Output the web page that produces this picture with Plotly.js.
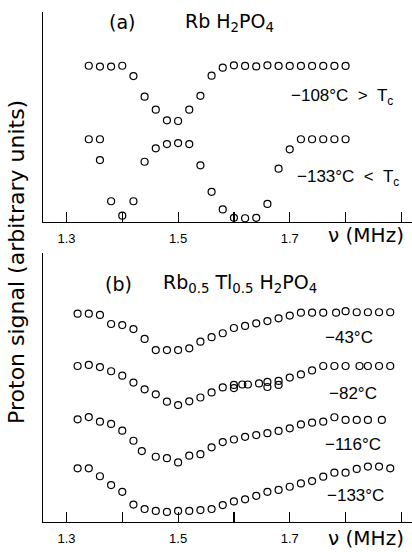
<!DOCTYPE html>
<html>
<head>
<meta charset="utf-8">
<script src="https://cdn.plot.ly/plotly-3.0.1.min.js"></script>
<style>html,body{margin:0;padding:0;background:#fff;}</style>
</head>
<body>
<div id="chart" style="width:412px;height:552px;"></div>
<script>
// ---- Panel (a) RbH2PO4 ----
const freqA108 = [1.34,1.36,1.38,1.40,1.42,1.44,1.46,1.48,1.50,1.52,1.54,1.56,1.58,1.60,1.62,1.64,1.66,1.68,1.70,1.72,1.74,1.76,1.78,1.80];
const sigA108  = [7.44,7.40,7.40,7.44,6.95,5.97,5.35,4.84,4.81,5.35,6.01,6.97,7.35,7.46,7.43,7.41,7.46,7.43,7.43,7.43,7.43,7.43,7.43,7.43];
const freqA133 = [1.34,1.36,1.36,1.38,1.40,1.42,1.44,1.46,1.48,1.50,1.52,1.54,1.56,1.58,1.60,1.62,1.64,1.66,1.68,1.70,1.72,1.74,1.76,1.78,1.80];
const sigA133  = [3.94,3.94,2.95,0.99,0.30,0.99,2.87,3.51,3.71,3.76,3.71,2.70,1.44,0.60,0.20,0.18,0.20,0.86,2.54,3.46,3.94,3.94,3.94,3.94,3.94];

// ---- Panel (b) Rb0.5Tl0.5H2PO4 ----
const freqB43 = [1.32,1.34,1.36,1.38,1.40,1.42,1.44,1.46,1.48,1.50,1.52,1.54,1.56,1.58,1.60,1.62,1.64,1.66,1.68,1.70,1.72,1.74,1.76,1.783,1.80,1.82,1.84,1.86,1.88];
const sigB43  = [9.68,9.68,9.62,9.19,9.14,8.95,8.48,7.95,7.95,7.95,8.03,8.35,8.56,8.75,9.00,9.10,9.22,9.33,9.46,9.59,9.73,9.73,9.73,9.73,9.80,9.75,9.75,9.75,9.75];
const freqB82 = [1.32,1.34,1.36,1.38,1.40,1.42,1.44,1.46,1.48,1.50,1.52,1.54,1.56,1.58,1.60,1.60,1.615,1.625,1.645,1.66,1.66,1.68,1.68,1.70,1.72,1.74,1.76,1.78,1.80,1.825,1.84,1.86,1.88];
const sigB82  = [7.19,7.24,7.14,6.94,6.73,6.40,6.08,5.84,5.49,5.33,5.51,5.69,5.93,6.17,6.29,6.14,6.31,6.31,6.36,6.43,6.19,6.48,6.29,6.64,6.79,6.98,7.19,7.19,7.19,7.19,7.19,7.19,7.19];
const freqB116 = [1.32,1.34,1.36,1.38,1.40,1.42,1.435,1.46,1.48,1.50,1.52,1.54,1.56,1.58,1.60,1.62,1.64,1.66,1.68,1.70,1.72,1.74,1.76,1.78,1.80,1.82,1.84,1.865];
const sigB116  = [4.65,4.76,4.54,4.43,4.11,3.63,3.14,2.87,2.80,2.60,2.92,2.99,3.32,3.57,3.69,3.82,3.90,3.99,4.10,4.22,4.41,4.49,4.54,4.75,4.62,4.62,4.62,4.62];
const freqB133 = [1.32,1.34,1.36,1.38,1.40,1.42,1.44,1.46,1.48,1.50,1.52,1.54,1.56,1.58,1.60,1.62,1.64,1.66,1.68,1.70,1.72,1.74,1.76,1.78,1.80,1.82,1.84,1.86,1.88];
const sigB133  = [2.32,2.32,1.94,1.52,1.20,0.59,0.38,0.29,0.24,0.29,0.29,0.33,0.38,0.57,0.74,0.84,1.01,1.20,1.29,1.44,1.60,1.71,1.92,2.11,2.11,2.29,2.40,2.40,2.32];

// ---- Axis ticks ----
const labelTickVals = [1.3,1.5,1.7];
const labelTickText = ['1.3','1.5','1.7'];
const minorTick0 = 1.3;
const minorStep = 0.1;

const SANS = 'DejaVu Sans, sans-serif';
const HELV = 'Liberation Sans, Arial, sans-serif';

function pts(x, y, xa, ya) {
  return {
    x: x, y: y, xaxis: xa, yaxis: ya, type: 'scatter', mode: 'markers',
    cliponaxis: false, hoverinfo: 'skip',
    marker: {symbol: 'circle-open', size: 7, color: '#000', line: {color: '#000', width: 1.2}}
  };
}

const data = [
  pts(freqA108, sigA108, 'x', 'y'),
  pts(freqA133, sigA133, 'x', 'y'),
  pts(freqB43, sigB43, 'x2', 'y2'),
  pts(freqB82, sigB82, 'x2', 'y2'),
  pts(freqB116, sigB116, 'x2', 'y2'),
  pts(freqB133, sigB133, 'x2', 'y2')
];

const xStyle = {
  range: [1.258, 1.919], showline: true, linecolor: '#000', linewidth: 1.2,
  ticks: 'inside', ticklen: 10, tickwidth: 1.2, tickcolor: '#000',
  tickmode: 'array', tickvals: labelTickVals, ticktext: labelTickText,
  minor: {tickmode: 'linear', tick0: minorTick0, dtick: minorStep, ticks: 'inside', ticklen: 10, tickwidth: 1.2, tickcolor: '#000', showgrid: false},
  ticklabelstandoff: 4,
  tickfont: {family: HELV, size: 13, color: '#000'},
  showgrid: false, zeroline: false, mirror: false, fixedrange: true
};
const yStyle = {
  showline: true, linecolor: '#000', linewidth: 1.2, ticks: '',
  showticklabels: false, showgrid: false, zeroline: false, fixedrange: true
};

function ann(text, x, y, xref, yref, size, family, opts) {
  return Object.assign({
    text: text, x: x, y: y, xref: xref, yref: yref, showarrow: false,
    xanchor: 'left', yanchor: 'middle',
    font: {family: family, size: size, color: '#000'}
  }, opts || {});
}

const annotations = [
  ann('(a)', 1.40, 9.52, 'x', 'y', 19, SANS, {xanchor: 'center'}),
  ann('Rb H<sub>2</sub>PO<sub>4</sub>', 1.509, 9.52, 'x', 'y', 19, SANS),
  ann('−108°C&nbsp; &gt;&nbsp; T<sub>c</sub>', 1.699, 5.97, 'x', 'y', 17, HELV),
  ann('−133°C&nbsp; &lt;&nbsp; T<sub>c</sub>', 1.71, 2.10, 'x', 'y', 17, HELV),
  ann('ν (MHz)', 1.837, 0.5627, 'x', 'paper', 20, SANS, {xanchor: 'center'}),

  ann('(b)', 1.393, 11.1, 'x2', 'y2', 19, SANS, {xanchor: 'center'}),
  ann('Rb<sub>0.5</sub> Tl<sub>0.5</sub> H<sub>2</sub>PO<sub>4</sub>', 1.469, 11.1, 'x2', 'y2', 19, SANS),
  ann('−43°C', 1.760, 8.57, 'x2', 'y2', 17, HELV),
  ann('−82°C', 1.767, 5.86, 'x2', 'y2', 17, HELV),
  ann('−116°C', 1.760, 3.43, 'x2', 'y2', 17, HELV),
  ann('−133°C', 1.763, 1.00, 'x2', 'y2', 17, HELV),
  ann('ν (MHz)', 1.837, -0.0585, 'x2', 'paper', 20, SANS, {xanchor: 'center', yanchor: 'bottom'}),

  ann('Proton signal (arbitrary units)', -0.0705, 0.51, 'paper', 'paper', 22, SANS,
      {xanchor: 'center', textangle: -90})
];

const layout = {
  width: 412, height: 552,
  margin: {l: 43, r: 0, t: 12, b: 30},
  paper_bgcolor: '#fff', plot_bgcolor: '#fff',
  showlegend: false,
  xaxis: Object.assign({anchor: 'y', domain: [0, 1]}, xStyle),
  yaxis: Object.assign({anchor: 'x', domain: [0.5882, 1], range: [0, 10]}, yStyle),
  xaxis2: Object.assign({anchor: 'y2', domain: [0, 1]}, xStyle),
  yaxis2: Object.assign({anchor: 'x2', domain: [0, 0.5275], range: [-0.238, 12.571]}, yStyle),
  annotations: annotations
};

Plotly.newPlot('chart', data, layout, {displayModeBar: false, staticPlot: true});
</script>
</body>
</html>
